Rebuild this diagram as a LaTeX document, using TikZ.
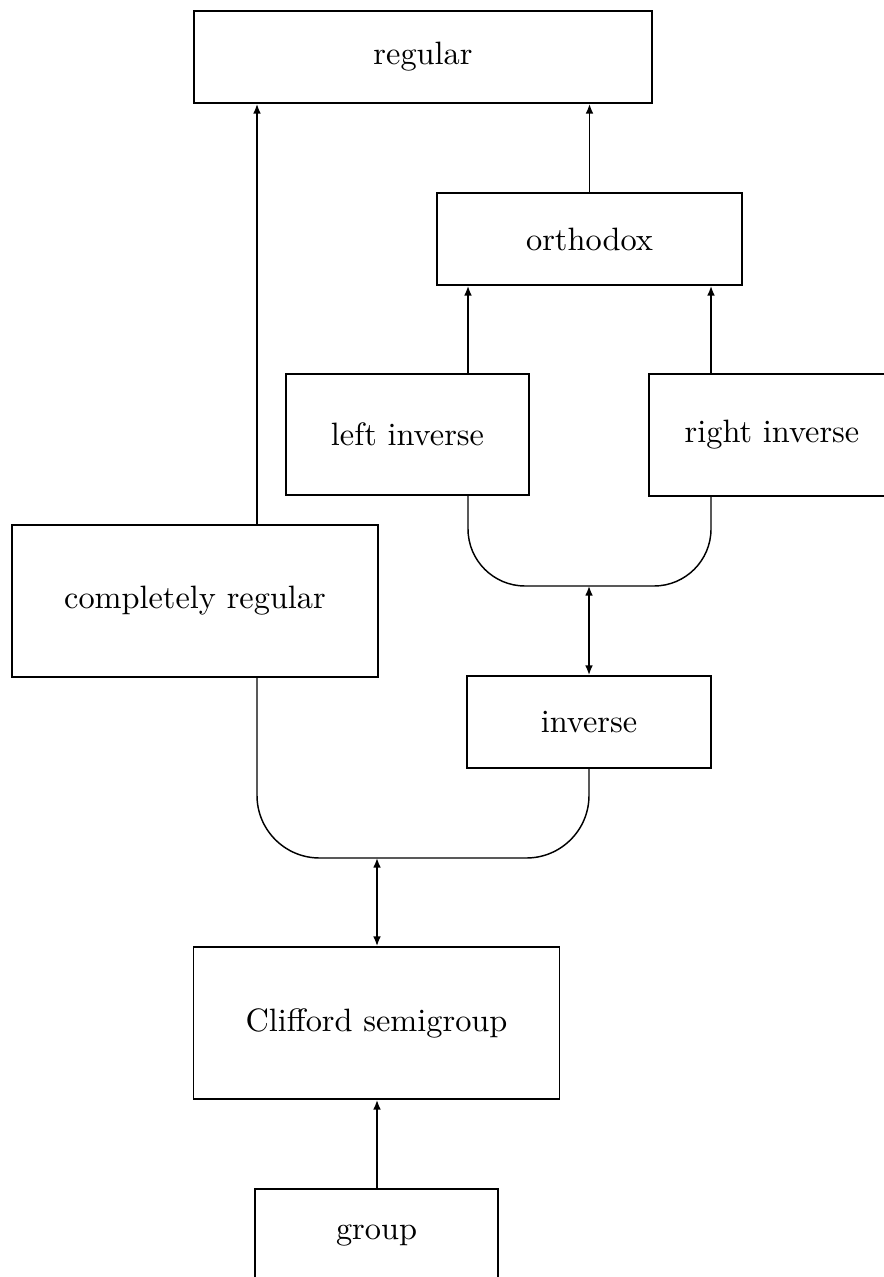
\documentclass[tikz,border=0pt]{standalone}
\usepackage{tikz}
\usetikzlibrary{arrows.meta,positioning,calc}
\newcommand{\pxu}{0.01086cm}
\tikzset{
  cls/.style={
    rectangle,
    draw=black,
    line width=0.6pt,
    align=center,
    inner sep=0pt,
    font=\normalsize
  },
  line/.style={-{Latex[length=3pt,width=2.4pt]}, line width=0.45pt},
  both/.style={{Latex[length=3pt,width=2.4pt]}-{Latex[length=3pt,width=2.4pt]}, line width=0.45pt},
  merge/.style={line width=0.45pt, rounded corners=#1}
}

\begin{document}
\begin{tikzpicture}[x=\pxu, y=-\pxu]
  \useasboundingbox (0,0) rectangle (884,1277);
  \clip (0,0) rectangle (884,1277);

  \node[cls, minimum width=458*\pxu, minimum height=92*\pxu] (regular) at (423,57) {regular};
  \node[cls, minimum width=305*\pxu, minimum height=92*\pxu] (orthodox) at (589.5,239) {orthodox};
  \node[cls, minimum width=243*\pxu, minimum height=121*\pxu] (leftinv) at (407.5,434.5) {left inverse};
  \node[cls, minimum width=246*\pxu, minimum height=122*\pxu] (rightinv) at (772,435) {right inverse};
  \node[cls, minimum width=366*\pxu, minimum height=152*\pxu] (compreg) at (195,601) {completely regular};
  \node[cls, minimum width=244*\pxu, minimum height=92*\pxu] (inverse) at (589,722) {inverse};
  \node[cls, minimum width=366*\pxu, minimum height=152*\pxu] (clifford) at (376.5,1023) {Clifford semigroup};
  \node[cls, minimum width=243*\pxu, minimum height=92*\pxu] (group) at (376.5,1235) {group};

  % where the connectors run
  \coordinate (xa) at (257,0);
  \coordinate (xc) at (468,0);
  \coordinate (xe) at (711,0);
  \coordinate (j1) at (589,586);
  \coordinate (j2) at (377,858);

  \draw[line] (compreg.north -| xa) -- (regular.south -| xa);
  \draw[line] (orthodox.north) -- (regular.south -| orthodox.north);
  \draw[line] (leftinv.north -| xc) -- (orthodox.south -| xc);
  \draw[line] (rightinv.north -| xe) -- (orthodox.south -| xe);

  \draw[merge=0.62cm] (leftinv.south -| xc) |- (j1) -| (rightinv.south -| xe);
  \draw[both] (j1) -- (inverse.north);

  \draw[merge=0.68cm] (compreg.south -| xa) |- (j2) -| (inverse.south);
  \draw[both] (j2) -- (clifford.north -| j2);
  \draw[line] (group.north -| j2) -- (clifford.south -| j2);
\end{tikzpicture}
\end{document}
